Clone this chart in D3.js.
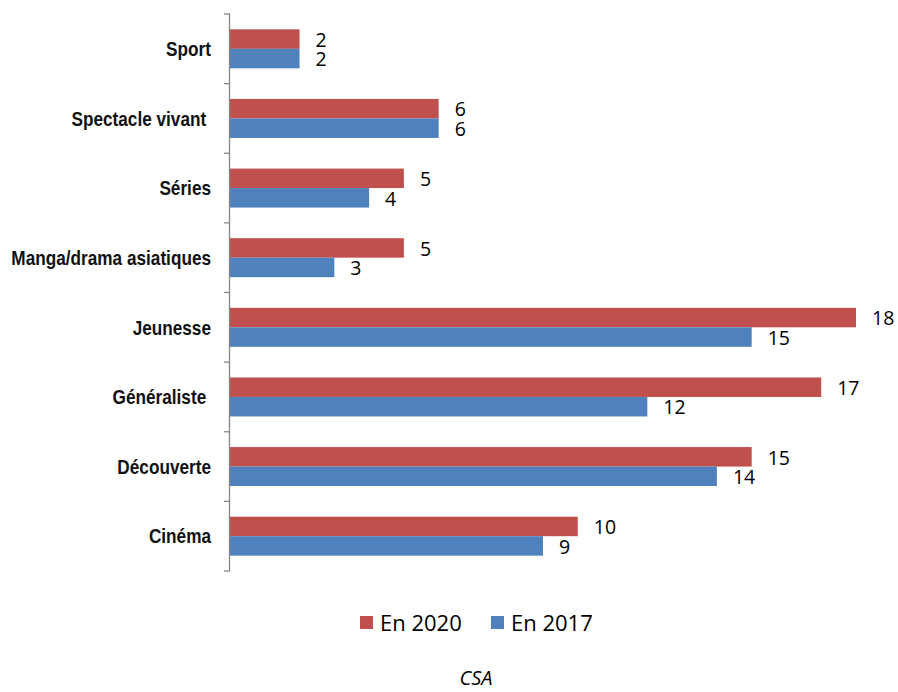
<!DOCTYPE html>
<html><head><meta charset="utf-8">
<script src="https://cdn.jsdelivr.net/npm/d3@7/dist/d3.min.js"></script>
<style>
body{margin:0;background:#fff;}
svg{display:block;}
.cat text{font-family:"Liberation Sans","Arial",sans-serif;font-weight:bold;font-size:20px;fill:#111;white-space:pre;}
.val{font-family:"Open Sans","Noto Sans",sans-serif;font-size:19.5px;fill:#000;}
.leg{font-family:"Open Sans","Noto Sans",sans-serif;font-size:22px;fill:#000;}
.src{font-family:"Open Sans","Noto Sans",sans-serif;font-size:20px;font-style:italic;fill:#000;}
</style></head>
<body>
<svg id="c" width="898" height="692"></svg>
<script>
const categories = ["Sport","Spectacle vivant ","Séries","Manga/drama asiatiques","Jeunesse","Généraliste ","Découverte","Cinéma"];
const seriesNames = ["En 2020","En 2017"];
const values2020 = [2,6,5,5,18,17,15,10];
const values2017 = [2,6,4,3,15,12,14,9];
const colors = ["#C0504D","#4F81BD"];
const sourceLabel = "CSA";

const svg = d3.select("#c");
const x = d3.scaleLinear().domain([0,18]).range([230,856]);
const y = d3.scaleBand().domain(categories).range([14,571]).paddingInner(0.44).paddingOuter(0.22);
const sub = d3.scaleBand().domain(seriesNames).range([0,y.bandwidth()]);

const rows = categories.map((c,i)=>({cat:c, vals:[values2020[i],values2017[i]]}));

const g = svg.append("g");
rows.forEach(r=>{
  seriesNames.forEach((s,j)=>{
    const v = r.vals[j];
    const yy = y(r.cat)+sub(s);
    g.append("rect").attr("x",x(0)).attr("y",yy).attr("width",x(v)-x(0)).attr("height",sub.bandwidth())
      .attr("fill",colors[j]);
    g.append("text").attr("class","val").attr("x",x(v)+16).attr("y",yy+sub.bandwidth()/2).attr("dy","0.4em").text(v);
  });
});

const ax = svg.append("g").attr("class","cat");
ax.append("line").attr("x1",229.5).attr("x2",229.5).attr("y1",14).attr("y2",571).attr("stroke","#868686").attr("stroke-width",1.3);
d3.range(categories.length+1).forEach(i=>{
  const yy = 14 + i*(571-14)/categories.length;
  ax.append("line").attr("x1",224).attr("x2",230).attr("y1",yy).attr("y2",yy).attr("stroke","#868686").attr("stroke-width",1.3);
});
categories.forEach(c=>{
  ax.append("text").attr("transform",`translate(211,${y(c)+y.bandwidth()/2}) scale(0.86,1)`)
    .attr("dy","0.36em").attr("text-anchor","end").text(c);
});

const legX = [360,491];
seriesNames.forEach((s,j)=>{
  svg.append("rect").attr("x",legX[j]).attr("y",616).attr("width",13).attr("height",13).attr("fill",colors[j]);
  svg.append("text").attr("class","leg").attr("x",legX[j]+20).attr("y",631).text(s);
});
svg.append("text").attr("class","src").attr("x",476).attr("y",685).attr("text-anchor","middle").text(sourceLabel);
</script>
</body></html>
